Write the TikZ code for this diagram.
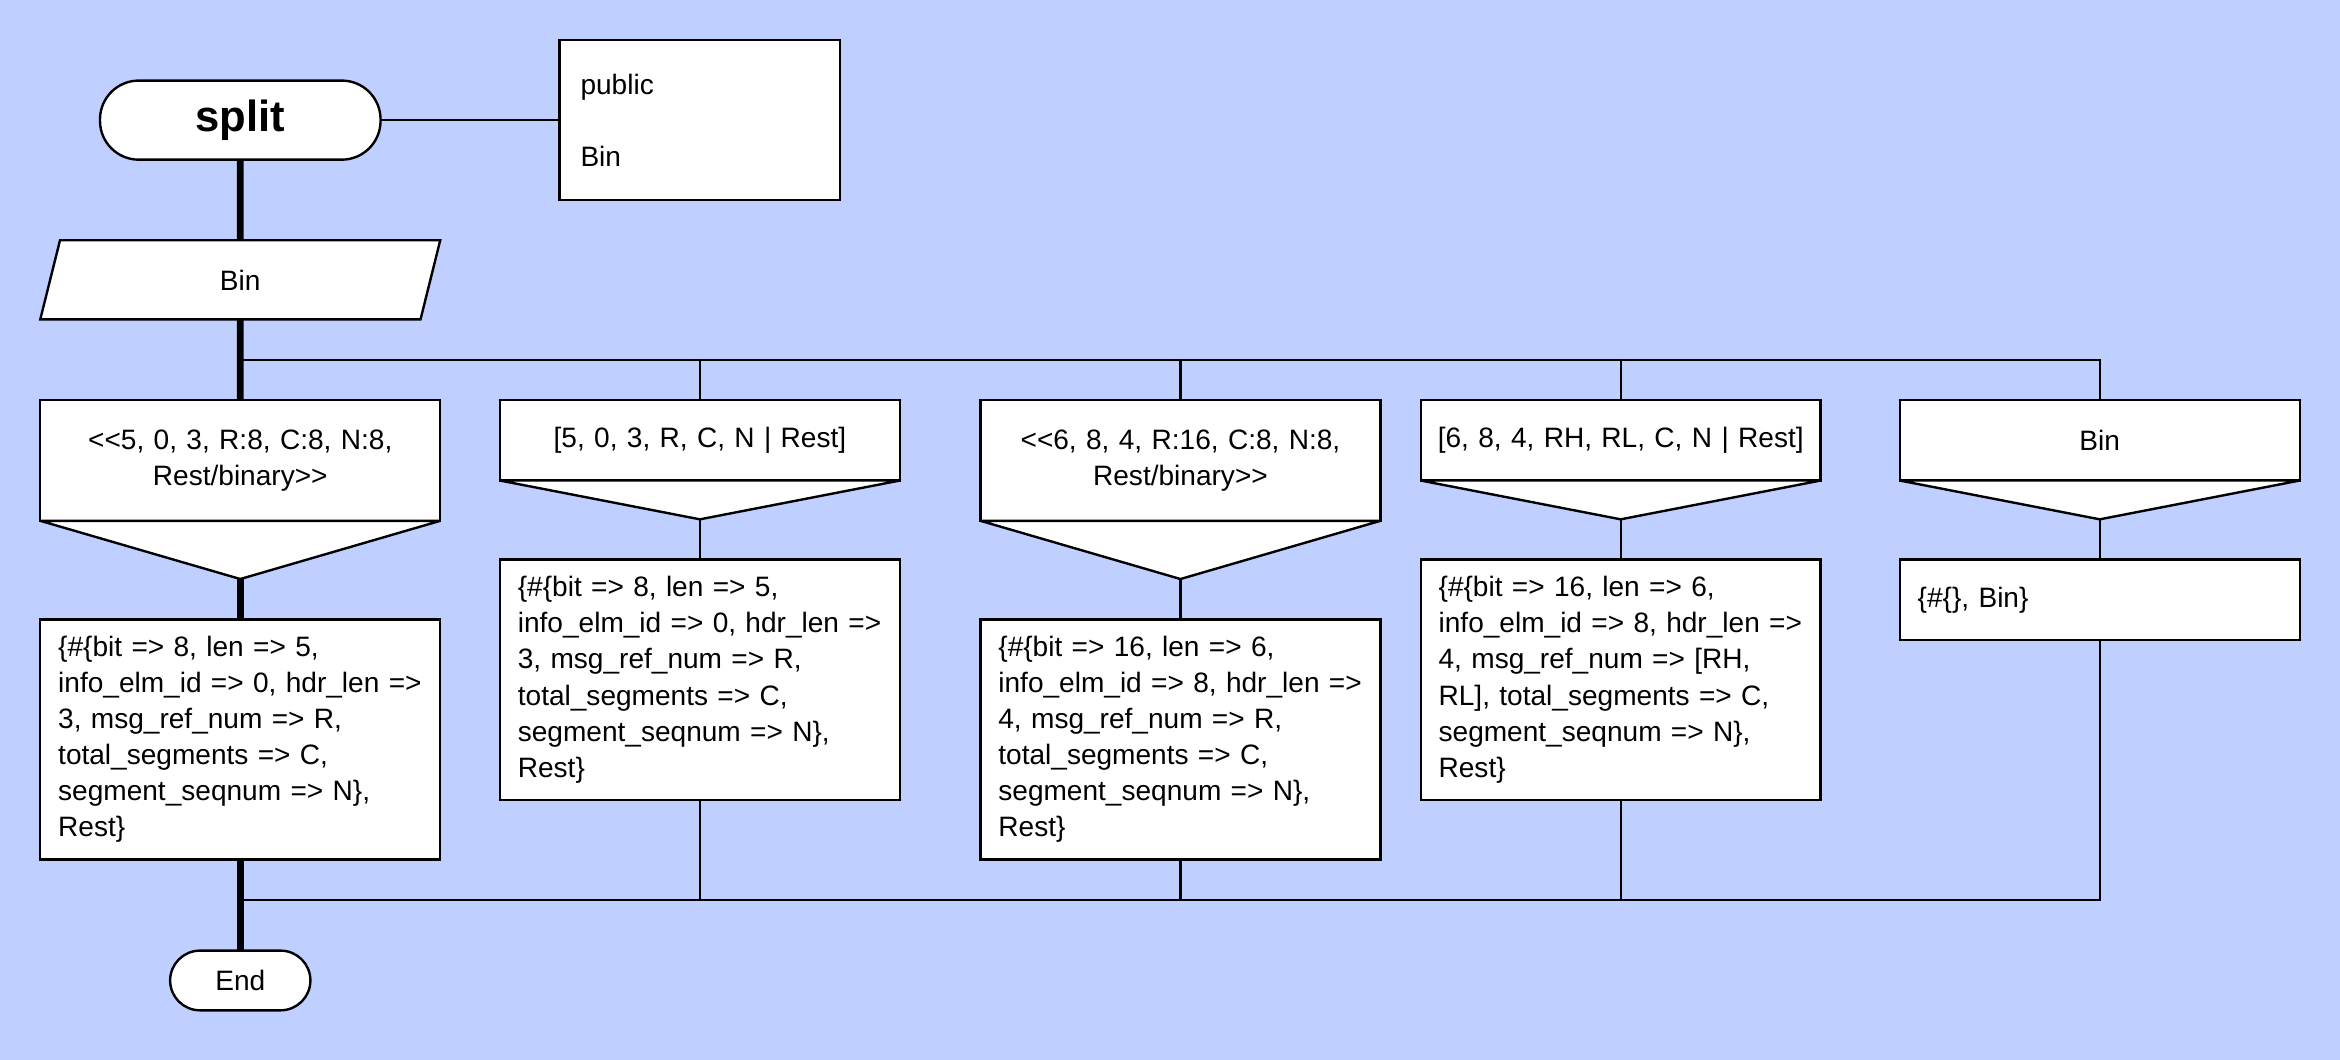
\documentclass[tikz,border=0pt]{standalone}
\usepackage{fontspec}
\newfontfamily\lsans{Liberation Sans}
\usetikzlibrary{calc,positioning,shapes.geometric}
\definecolor{bgblue}{RGB}{191,207,255}

\begin{document}
\begin{tikzpicture}[x=0.5pt,y=-0.5pt,
		BaseStyle/.style={draw, fill=white, line width=0.8pt, font=\lsans\fontsize{9.4}{12.1}\selectfont, inner sep=0pt, outer sep=0pt},
		TermStyle/.style={BaseStyle, rectangle, rounded corners=#1},
		CaseStyle/.style={BaseStyle, minimum width=134pt, minimum height=#1, text width=128pt, align=center},
		BodyStyle/.style={BaseStyle, minimum width=134pt, minimum height=#1, text width=122pt, align=left},
		Thin/.style={line width=0.7pt},
		Thick/.style={line width=2.2pt}]
		\fill[bgblue] (0,0) rectangle (1568,710);
		\node[TermStyle=13pt, minimum width=94pt, minimum height=26.5pt, font=\lsans\bfseries\fontsize{14.6}{17}\selectfont] (split) at (161,80.5) {split};
		\node[BaseStyle, minimum width=94pt, minimum height=53.5pt, text width=80pt, align=left] (info) at (469,80.5) {public\\[12.1pt]Bin};
		\node[BaseStyle, trapezium, trapezium left angle=76, trapezium right angle=104, trapezium stretches body=true, text height=7pt, text depth=0pt, inner ysep=9.75pt, minimum width=134pt] (bin) at (161,187.5) {Bin};
		\coordinate (fork) at (161,241);
		\coordinate (join) at (161,603);
		\node[CaseStyle=40.5pt] (c1) at (161,308.5) {<<5, 0, 3, R:8, C:8, N:8,\\ Rest/binary>>};
		\node[CaseStyle=27pt] (c2) at (469,295) {[5, 0, 3, R, C, N | Rest]};
		\node[CaseStyle=40.5pt] (c3) at (791,308.5) {<<6, 8, 4, R:16, C:8, N:8,\\ Rest/binary>>};
		\node[CaseStyle=27pt] (c4) at (1086,295) {[6, 8, 4, RH, RL, C, N | Rest]};
		\node[CaseStyle=27pt] (c5) at (1407,295) {Bin};
		% guard triangles under the patterns
		\coordinate[below=19.5pt of c1.south] (c1t);
		\coordinate[below=13pt of c2.south] (c2t);
		\coordinate[below=19.5pt of c3.south] (c3t);
		\coordinate[below=13pt of c4.south] (c4t);
		\coordinate[below=13pt of c5.south] (c5t);
		\foreach \n in {1,...,5}
		\filldraw[fill=white, line width=0.8pt, line join=bevel] (c\n.south west) -- (c\n t) -- (c\n.south east) -- cycle;
		\node[BodyStyle=80.5pt, below=13.5pt of c1t] (b1) {\{\#\{bit => 8, len => 5,\\ info\_elm\_id => 0, hdr\_len =>\\ 3, msg\_ref\_num => R,\\ total\_segments => C,\\ segment\_seqnum => N\},\\ Rest\}};
		\node[BodyStyle=80.5pt, below=13.5pt of c2t] (b2) {\{\#\{bit => 8, len => 5,\\ info\_elm\_id => 0, hdr\_len =>\\ 3, msg\_ref\_num => R,\\ total\_segments => C,\\ segment\_seqnum => N\},\\ Rest\}};
		\node[BodyStyle=80.5pt, below=13.5pt of c3t] (b3) {\{\#\{bit => 16, len => 6,\\ info\_elm\_id => 8, hdr\_len =>\\ 4, msg\_ref\_num => R,\\ total\_segments => C,\\ segment\_seqnum => N\},\\ Rest\}};
		\node[BodyStyle=80.5pt, below=13.5pt of c4t] (b4) {\{\#\{bit => 16, len => 6,\\ info\_elm\_id => 8, hdr\_len =>\\ 4, msg\_ref\_num => [RH,\\ RL], total\_segments => C,\\ segment\_seqnum => N\},\\ Rest\}};
		\node[BodyStyle=27pt, below=13.5pt of c5t] (b5) {\{\#\{\}, Bin\}};
		\node[TermStyle=10pt, minimum width=47pt, minimum height=20pt] (endnode) at (161,657) {End};
		% connectors
		\draw[Thin] (split) -- (info);
		\draw[Thick] (split) -- (bin);
		\draw[Thick] (bin) -- (c1);
		\draw[Thick] (c1t) -- (b1);
		\draw[Thick] (b1) -- (endnode);
		\foreach \n in {2,...,5} {
			\draw[Thin] (fork) -| (c\n.north);
			\draw[Thin] (c\n t) -- (b\n);
			\draw[Thin] (b\n.south) |- (join);
		}
	\end{tikzpicture}
\end{document}
